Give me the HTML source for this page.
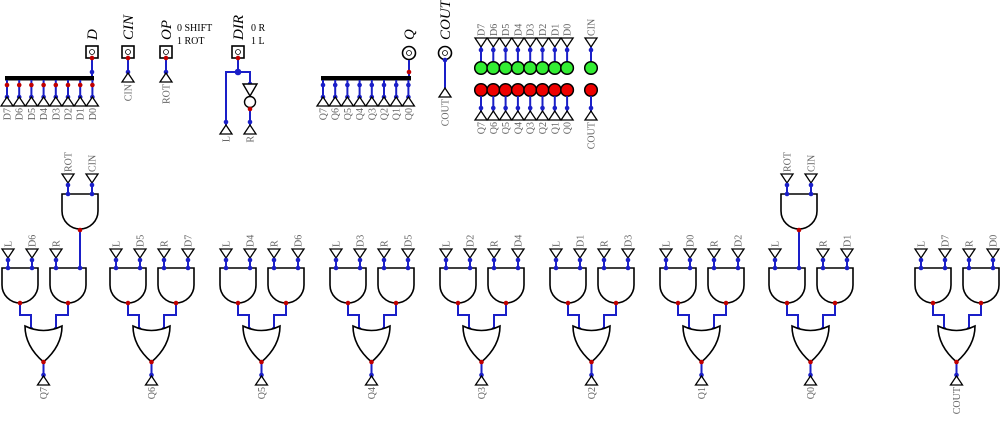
<!DOCTYPE html>
<html><head><meta charset="utf-8"><style>
html,body{margin:0;padding:0;background:#fff;width:1000px;height:421px;overflow:hidden}
svg{display:block}
.lbl{font-family:"Liberation Serif",serif;font-size:10px;fill:#666}
.ttl{font-family:"Liberation Serif",serif;font-size:15px;font-style:italic;fill:#000}
.note{font-family:"Liberation Serif",serif;font-size:10px;fill:#000}
</style></head><body>
<svg id="c" width="1000" height="421" xmlns="http://www.w3.org/2000/svg"></svg>
<script>
const NS="http://www.w3.org/2000/svg";
const svg=document.getElementById('c');
const BLUE="#1a1fc8", RED="#c00000";
const dataBits=["D7","D6","D5","D4","D3","D2","D1","D0"];
const outBits=["Q7","Q6","Q5","Q4","Q3","Q2","Q1","Q0"];
const groupOuts=["Q7","Q6","Q5","Q4","Q3","Q2","Q1","Q0","COUT"];
const groupLeftIn=["D6","D5","D4","D3","D2","D1","D0","CIN_AND","D7"];
const groupRightIn=["CIN_AND","D7","D6","D5","D4","D3","D2","D1","D0"];
const groupBase=[2,110,220,330,440,550,660,769,915];
function el(t,a,p){const e=document.createElementNS(NS,t);for(const k in a)e.setAttribute(k,a[k]);(p||svg).appendChild(e);return e;}
function line(x1,y1,x2,y2,c){const e=el('polyline',{points:`${x1},${y1} ${x2},${y2}`,stroke:c||BLUE,'stroke-width':2,fill:'none'});return e;}
function poly(pts,c){const e=el('polyline',{points:pts.map(p=>p.join(',')).join(' '),stroke:c||BLUE,'stroke-width':2,fill:'none'});return e;}
function dot(x,y,c,r){const e=el('circle',{cx:x,cy:y,r:r||2.3,fill:c||BLUE});}
function vtext(x,y,s,anchor){const t=el('text',{x:0,y:0,class:'lbl',transform:`translate(${x+3.5},${y}) rotate(-90)`,'text-anchor':anchor});t.textContent=s;}
// tunnel pointing down (label above), tip at y
function tunDown(x,y,s){const e=el('path',{d:`M${x-6},${y-9} H${x+6} L${x},${y} Z`,fill:'#fff',stroke:'#000','stroke-width':1.3});vtext(x,y-11,s,'start');}
// tunnel pointing up (label below), tip at y
function tunUp(x,y,s){const e=el('path',{d:`M${x-6},${y+9} H${x+6} L${x},${y} Z`,fill:'#fff',stroke:'#000','stroke-width':1.3});vtext(x,y+11,s,'end');}
function andGate(x,y,n){const e=el('path',{d:`M${x},${y} H${x+36} V${y+17} A18 18 0 0 1 ${x} ${y+17} Z`,fill:'#fff',stroke:'#000','stroke-width':1.6});}
function orGate(x,y,n){const w=37,c=x+w/2;const e=el('path',{d:`M${x},${y} Q${c},${y+9} ${x+w},${y} Q${x+w},${y+20} ${c},${y+36} Q${x},${y+20} ${x},${y} Z`,fill:'#fff',stroke:'#000','stroke-width':1.6});}
function lab(n){return n==="CIN_AND"?null:n;}

// ---- bottom gate groups ----
groupBase.forEach((b,i)=>{
  const ins=[["L",b+6],[lab(groupLeftIn[i]),b+30],["R",b+54],[lab(groupRightIn[i]),b+78]];
  andGate(b,268,'and-gate-'+groupOuts[i].toLowerCase()+'-left');
  andGate(b+48,268,'and-gate-'+groupOuts[i].toLowerCase()+'-right');
  ins.forEach(([s,x])=>{
    if(s){tunDown(x,258,s);line(x,258,x,268);dot(x,260);dot(x,268);}
    else{
      // extra AND gate ROT & CIN above
      andGate(x-18,194,'and-gate-rot-cin');
      tunDown(x-12,183,"ROT");tunDown(x+12,183,"CIN");
      line(x-12,183,x-12,194);line(x+12,183,x+12,194);
      dot(x-12,185);dot(x-12,194);dot(x+12,185);dot(x+12,194);
      line(x,230,x,268);dot(x,230,RED);dot(x,268);
    }
  });
  const o1=b+18,o2=b+66,oi1=b+29,oi2=b+54;
  poly([[o1,303],[o1,315],[oi1,315],[oi1,328]]);
  poly([[o2,303],[o2,315],[oi2,315],[oi2,328]]);
  dot(o1,303,RED);dot(o2,303,RED);dot(oi1,329);dot(oi2,329);
  orGate(b+23,326,'or-gate-'+groupOuts[i].toLowerCase());
  const ox=b+41.5;
  line(ox,362,ox,377);dot(ox,362,RED);dot(ox,375);
  tunUp(ox,376,groupOuts[i]);
});

// ---- top: D input + splitter ----
function title(x,y,s){const t=el('text',{x:0,y:0,class:'ttl',transform:`translate(${x},${y}) rotate(-90)`});t.textContent=s;}
function pinSq(x,y,n){const g=el('g',{});
  el('rect',{x:x-6,y:y-6,width:12,height:12,fill:'#fff',stroke:'#000','stroke-width':1.6},g);
  el('circle',{cx:x,cy:y,r:2.5,fill:'none',stroke:'#000','stroke-width':0.8},g);}
function pinCirc(x,y,n){const g=el('g',{});
  el('circle',{cx:x,cy:y,r:6.5,fill:'#fff',stroke:'#000','stroke-width':1.6},g);
  el('circle',{cx:x,cy:y,r:2.5,fill:'none',stroke:'#000','stroke-width':0.8},g);}
function note(x,y,s){const t=el('text',{x:x,y:y,class:'note'});t.textContent=s;}

// D splitter
pinSq(92,52,'d-input-pin');title(97,40,"D");
line(92,58,92,78);dot(92,58,RED);dot(92,72);
el('rect',{x:5,y:76,width:89,height:4.5,fill:'#000'});
dataBits.forEach((s,i)=>{const x=7+i*12.2;line(x,80,x,97);dot(x,85,RED);dot(x,97);tunUp(x,97,s);});
// CIN, OP
pinSq(128,52,'cin-input-pin');title(133,40,"CIN");line(128,58,128,73);dot(128,58,RED);dot(128,72);tunUp(128,73,"CIN");
pinSq(166,52,'op-input-pin');title(171,40,"OP");line(166,58,166,73);dot(166,58,RED);dot(166,72);tunUp(166,73,"ROT");
note(177,31,"0 SHIFT");note(177,44,"1 ROT");
// DIR
pinSq(238,52,'dir-input-pin');title(243,40,"DIR");note(251,31,"0 R");note(251,44,"1 L");
line(238,58,238,72);dot(238,58,RED);dot(238,72,BLUE,3.3);
poly([[238,72],[226,72],[226,125]]);dot(226,122);tunUp(226,125,"L");
poly([[238,72],[250,72],[250,84]]);dot(250,84);
el('path',{d:`M243,84 H257 L250,96 Z`,fill:'#fff',stroke:'#000','stroke-width':1.4});
el('circle',{cx:250,cy:102,r:5.5,fill:'#fff',stroke:'#000','stroke-width':1.4});
line(250,108,250,125);dot(250,109,RED);dot(250,122);tunUp(250,125,"R");
// Q splitter
pinCirc(409,53,'q-output-pin');title(414,40,"Q");
line(409,60,409,78);dot(409,72,RED);
el('rect',{x:321,y:76,width:90,height:4.5,fill:'#000'});
outBits.forEach((s,i)=>{const x=323+i*12.2;line(x,80,x,97);dot(x,85);dot(x,97);tunUp(x,97,s);});
// COUT
pinCirc(445,53,'cout-output-pin');title(450,40,"COUT");line(445,60,445,88);dot(445,60);tunUp(445,88,"COUT");
// LEDs
function led(x,y,c,n){const e=el('circle',{cx:x,cy:y,r:6.3,fill:c,stroke:'#000','stroke-width':1.5});}
dataBits.forEach((s,i)=>{const x=481+i*12.3;tunDown(x,47,s);line(x,47,x,62);dot(x,50);led(x,68,'#33ee33','led-'+s.toLowerCase());});
outBits.forEach((s,i)=>{const x=481+i*12.3;led(x,90,'#ee0000','led-'+s.toLowerCase());line(x,96,x,112);dot(x,108);tunUp(x,111,s);});
tunDown(591,47,"CIN");line(591,47,591,62);dot(591,50);led(591,68,'#33ee33','led-cin');
led(591,90,'#ee0000','led-cout');line(591,96,591,112);dot(591,108);tunUp(591,111,"COUT");
</script>
</body></html>
